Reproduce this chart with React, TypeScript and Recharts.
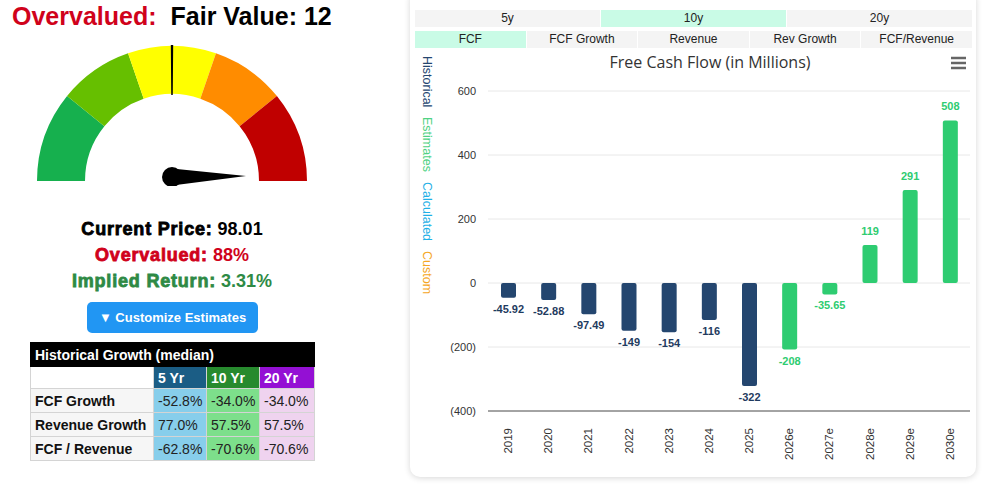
import { BarChart, Bar, XAxis, YAxis, CartesianGrid, Cell, LabelList, PieChart, Pie } from "recharts";

// Free cash flow by fiscal year, in millions; from estimateStart onward the values are estimates
const years = ["2019", "2020", "2021", "2022", "2023", "2024", "2025", "2026e", "2027e", "2028e", "2029e", "2030e"];
const fcfValues = [-45.92, -52.88, -97.49, -149, -154, -116, -322, -208, -35.65, 119, 291, 508];
const estimateStart = 7;
const yTicks = [-400, -200, 0, 200, 400, 600];

// Gauge bands (degrees of the half circle), fair value mark and needle position
const gaugeBandValues = [39, 32, 38, 32, 39];
const gaugeTotal = 180;
const fairValueMark = 90;
const gaugeNeedle = 179.2;

const periodTabs = ["5y", "10y", "20y"];
const activePeriod = "10y";
const metricTabs = ["FCF", "FCF Growth", "Revenue", "Rev Growth", "FCF/Revenue"];
const activeMetric = "FCF";
const legendItems = ["Historical", "Estimates", "Calculated", "Custom"];

// Historical growth (median), percent
const growthRows = ["FCF Growth", "Revenue Growth", "FCF / Revenue"];
const growth5y = [-52.8, 77.0, -62.8];
const growth10y = [-34.0, 57.5, -70.6];
const growth20y = [-34.0, 57.5, -70.6];

const NAVY = "#24466f";
const GREEN = "#2ecc71";
const bandColors = ["#16b04e", "#66bf00", "#ffff00", "#ff8c00", "#c00000"];
const legendColors = [NAVY, "#4fd283", "#1fb0e6", "#f5a623"];

const chartData = years.map((year, i) => ({ year, fcf: fcfValues[i], estimate: i >= estimateStart }));

const fmtAxis = (v: number) => (v < 0 ? `(${-v})` : `${v}`);
const fmtPct = (v: number) => `${v.toFixed(1)}%`;

const BarValueLabel = (props: any) => {
  const { x, y, width, height, value, index } = props;
  const top = Math.min(y, y + height);
  const bottom = Math.max(y, y + height);
  const ly = value < 0 ? bottom + 11 : top - 14;
  return (
    <text x={x + width / 2} y={ly} textAnchor="middle" dominantBaseline="central"
      fontSize={11} fontWeight="bold" fill={chartData[index].estimate ? GREEN : "#1f3b60"}>
      {String(value)}
    </text>
  );
};

const YearTick = ({ x, y, payload }: any) => (
  <text transform={`translate(${x},${y + 17}) rotate(-90)`} textAnchor="end"
    dominantBaseline="central" fontSize={11.5} fill="#333">
    {payload.value}
  </text>
);

// needle drawn at the end angle of the first (invisible) slice
const renderNeedle = (props: any) => {
  if (props.index !== 0) return null;
  const { cx, cy, endAngle } = props;
  const rad = (endAngle * Math.PI) / 180;
  const px = cx;
  const py = cy - 4;
  const len = 74;
  const tx = px + len * Math.cos(rad);
  const ty = py - len * Math.sin(rad);
  const nx = Math.sin(rad);
  const ny = Math.cos(rad);
  const w = 8.5;
  return (
    <g>
      <circle cx={px} cy={py} r={10} fill="#000" />
      <path d={`M${px + nx * w},${py + ny * w} L${tx},${ty} L${px - nx * w},${py - ny * w} Z`} fill="#000" />
    </g>
  );
};

const Gauge = () => (
  <PieChart width={344} height={170} margin={{ top: 0, right: 0, bottom: 0, left: 0 }}>
    <Pie data={gaugeBandValues.map(value => ({ value }))} dataKey="value" cx={172} cy={165}
      startAngle={180} endAngle={0} innerRadius={87} outerRadius={135} stroke="none"
      isAnimationActive={false}>
      {gaugeBandValues.map((_, i) => <Cell key={i} fill={bandColors[i]} />)}
    </Pie>
    <Pie data={[{ value: fairValueMark - 0.5 }, { value: 1 }, { value: gaugeTotal - fairValueMark - 0.5 }]}
      dataKey="value" cx={172} cy={165} startAngle={180} endAngle={0} innerRadius={86} outerRadius={136}
      stroke="none" isAnimationActive={false}>
      <Cell fill="none" />
      <Cell fill="#000" />
      <Cell fill="none" />
    </Pie>
    <Pie data={[{ value: gaugeNeedle }, { value: gaugeTotal - gaugeNeedle }]} dataKey="value"
      cx={172} cy={165} startAngle={180} endAngle={0} innerRadius={0} outerRadius={135}
      fill="none" stroke="none" labelLine={false} label={renderNeedle} isAnimationActive={false} />
  </PieChart>
);

const cell = { border: "1px solid #d4d4d4", padding: "0 4px", height: 23, whiteSpace: "nowrap" as const };

const GrowthTable = () => (
  <table style={{ position: "absolute", left: 30, top: 342, width: 284, borderCollapse: "collapse", tableLayout: "fixed", fontSize: 14, color: "#222" }}>
    <colgroup>
      <col style={{ width: 123 }} />
      <col style={{ width: 53 }} />
      <col style={{ width: 53 }} />
      <col style={{ width: 55 }} />
    </colgroup>
    <tbody>
      <tr>
        <td colSpan={4} style={{ ...cell, height: 23, background: "#000", color: "#fff", fontWeight: "bold", border: "1px solid #000" }}>
          Historical Growth (median)
        </td>
      </tr>
      <tr>
        <td style={{ ...cell, height: 21, background: "#fff" }}></td>
        <td style={{ ...cell, height: 21, background: "#1b5d85", color: "#fff", fontWeight: "bold" }}>5 Yr</td>
        <td style={{ ...cell, height: 21, background: "#278a2e", color: "#fff", fontWeight: "bold" }}>10 Yr</td>
        <td style={{ ...cell, height: 21, background: "#9410d4", color: "#fff", fontWeight: "bold" }}>20 Yr</td>
      </tr>
      {growthRows.map((row, i) => (
        <tr key={row}>
          <td style={{ ...cell, background: "#f6f6f6", fontWeight: "bold", color: "#111" }}>{row}</td>
          <td style={{ ...cell, background: "#87ceeb" }}>{fmtPct(growth5y[i])}</td>
          <td style={{ ...cell, background: "#7ddf8b" }}>{fmtPct(growth10y[i])}</td>
          <td style={{ ...cell, background: "#efd3ef" }}>{fmtPct(growth20y[i])}</td>
        </tr>
      ))}
    </tbody>
  </table>
);

const Tabs = ({ items, active, top }: { items: string[]; active: string; top: number }) => (
  <div style={{ position: "absolute", left: 415, top, width: 557, height: 17, display: "flex", gap: 1 }}>
    {items.map(t => (
      <div key={t} style={{
        flex: 1, background: t === active ? "#c9fbe6" : "#f4f4f4", fontSize: 12, color: "#222",
        lineHeight: "17px", textAlign: "center",
      }}>{t}</div>
    ))}
  </div>
);

export default function App() {
  return (
    <div style={{ position: "absolute", left: 0, top: 0, width: 992, height: 485, overflow: "hidden", background: "#fff", fontFamily: "Arial, 'Liberation Sans', sans-serif" }}>
      {/* left panel */}
      <div style={{ position: "absolute", left: 12, top: 1, fontSize: 25, fontWeight: "bold", lineHeight: "30px", whiteSpace: "nowrap" }}>
        <span style={{ color: "#d0021b" }}>Overvalued:</span>
        <span style={{ color: "#000", marginLeft: 14 }}>Fair Value: 12</span>
      </div>
      <div style={{ position: "absolute", left: 0, top: 16 }}>
        <Gauge />
      </div>
      <div style={{ position: "absolute", left: 0, top: 216, width: 344, textAlign: "center", fontSize: 18, lineHeight: "26px", fontWeight: "bold", whiteSpace: "nowrap" }}>
        <div style={{ color: "#000" }}>
          <span style={{ WebkitTextStroke: "0.8px #000", letterSpacing: 0.8 }}>Current Price:</span> 98.01
        </div>
        <div style={{ color: "#d0021b" }}>
          <span style={{ WebkitTextStroke: "0.8px #d0021b", letterSpacing: 0.8 }}>Overvalued:</span> 88%
        </div>
        <div style={{ color: "#2e8a45" }}>
          <span style={{ WebkitTextStroke: "0.8px #2e8a45", letterSpacing: 0.8 }}>Implied Return:</span> 3.31%
        </div>
      </div>
      <div style={{ position: "absolute", left: 87, top: 302, width: 171, height: 31, background: "#2196f3", borderRadius: 5, color: "#fff", fontSize: 13, fontWeight: "bold", lineHeight: "31px", textAlign: "center" }}>
        ▼ Customize Estimates
      </div>
      <GrowthTable />

      {/* right card */}
      <div style={{ position: "absolute", left: 410, top: -10, width: 566, height: 487, background: "#fff", borderRadius: 10, boxShadow: "0 1px 6px rgba(0,0,0,0.16)" }} />
      <Tabs items={periodTabs} active={activePeriod} top={10} />
      <Tabs items={metricTabs} active={activeMetric} top={31} />
      <div style={{ position: "absolute", left: 510, top: 51, width: 400, textAlign: "center", fontFamily: "'Open Sans', sans-serif", fontSize: 16, color: "#333", lineHeight: "22px" }}>
        Free Cash Flow (in Millions)
      </div>
      <svg style={{ position: "absolute", left: 950, top: 56 }} width={18} height={14}>
        {[2, 7, 12].map(y => <line key={y} x1={1} x2={16} y1={y} y2={y} stroke="#666" strokeWidth={2.5} />)}
      </svg>
      <div style={{ position: "absolute", left: 420, top: 56, writingMode: "vertical-rl", fontSize: 12.5, lineHeight: "14px", whiteSpace: "nowrap" }}>
        {legendItems.map((t, i) => (
          <span key={t} style={{ color: legendColors[i], display: "inline-block", marginBottom: 10 }}>{t}</span>
        ))}
      </div>
      <div style={{ position: "absolute", left: 410, top: 0 }}>
        <BarChart width={566} height={477} data={chartData} margin={{ top: 91, right: 6, bottom: 16, left: 18 }}
          style={{ fontFamily: "Arial, 'Liberation Sans', sans-serif" }}>
          <CartesianGrid vertical={false} stroke="#e8e8e8" />
          <XAxis dataKey="year" height={50} tickSize={0} tickMargin={0} tickLine={false}
            axisLine={{ stroke: "#555" }} tick={<YearTick />} interval={0} />
          <YAxis width={60} domain={[-400, 600]} ticks={yTicks} tickFormatter={fmtAxis}
            axisLine={false} tickLine={false} tickSize={0} tickMargin={12}
            tick={{ fontSize: 11, fill: "#333" }} />
          <Bar dataKey="fcf" barSize={15} radius={2} isAnimationActive={false}>
            {chartData.map((d, i) => <Cell key={i} fill={d.estimate ? GREEN : NAVY} />)}
            <LabelList dataKey="fcf" content={<BarValueLabel />} />
          </Bar>
        </BarChart>
      </div>
    </div>
  );
}
